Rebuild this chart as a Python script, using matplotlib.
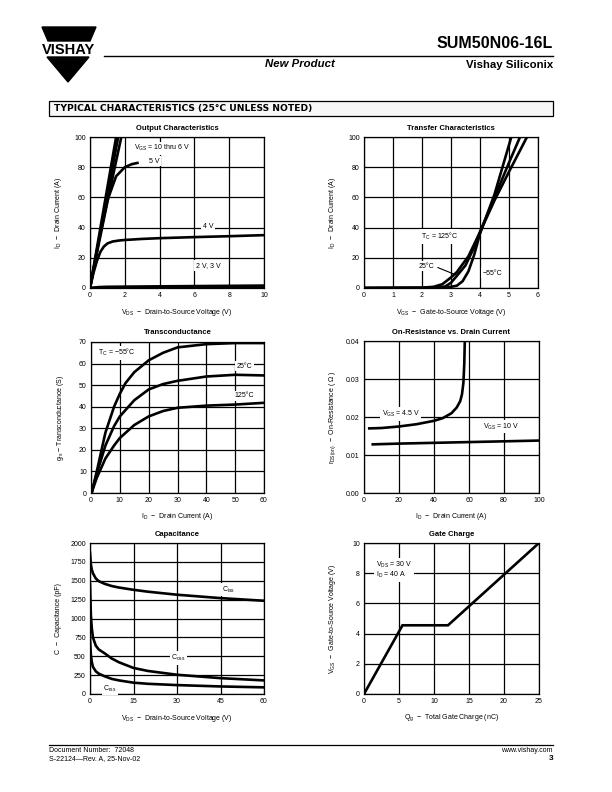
import matplotlib
matplotlib.use("Agg")
import matplotlib.pyplot as plt
from matplotlib.patches import Polygon, Rectangle

plt.rcParams['font.family'] = ['Liberation Sans', 'DejaVu Sans']
plt.rcParams['mathtext.fontset'] = 'custom'
plt.rcParams['mathtext.rm'] = 'Liberation Sans'
plt.rcParams['mathtext.it'] = 'Liberation Sans:italic'
plt.rcParams['mathtext.bf'] = 'Liberation Sans:bold'

# ---------------- data ----------------
# Output characteristics
out_vds_10 = [0, 1.5]
out_id_10 = [0, 100]
out_vds_8 = [0, 1.62]
out_id_8 = [0, 100]
out_vds_6 = [0, 0.5, 1.0, 1.5, 1.8]
out_id_6 = [0, 29, 57, 84, 100]
out_vds_5 = [0, 0.5, 1.0, 1.5, 2.0, 2.4, 2.8]
out_id_5 = [0, 31, 58, 74, 80, 82, 83]
out_vds_4 = [0, 0.2, 0.4, 0.6, 0.8, 1.0, 1.3, 1.7, 2.0, 3, 4, 6, 8, 10]
out_id_4 = [0, 10, 18, 24, 27.5, 29.5, 30.8, 31.5, 31.8, 32.5, 33, 33.7, 34.3, 35]
out_vds_3 = [0, 0.5, 1, 4, 10]
out_id_3 = [0, 0.6, 0.8, 1.1, 1.6]
out_vds_2 = [0, 10]
out_id_2 = [0, 0.2]

# Transfer characteristics
tr_vgs_125 = [0, 2.0, 2.4, 2.7, 3.0, 3.2, 3.6, 4.0, 4.5, 5.0, 5.62]
tr_id_125 = [0, 0.2, 0.8, 2.5, 7, 10.5, 21, 37, 58, 77, 100]
tr_vgs_25 = [0, 2.4, 2.8, 3.0, 3.2, 3.5, 3.8, 4.0, 4.5, 5.0, 5.38]
tr_id_25 = [0, 0.1, 1, 3.5, 8, 15, 27, 37, 60, 83, 100]
tr_vgs_m55 = [0, 2.8, 3.2, 3.4, 3.6, 3.8, 4.0, 4.5, 5.08]
tr_id_m55 = [0, 0.1, 1.5, 4.5, 11, 22, 36, 62, 100]

# Transconductance
gfs_id_m55 = [0.3, 2, 5, 8, 10, 12, 15, 20, 25, 30, 40, 50, 60]
gfs_m55 = [0.5, 10, 28, 40, 46, 51, 56, 61.5, 65, 67.5, 69, 69.5, 69.5]
gfs_id_25 = [0.3, 2, 5, 8, 10, 15, 20, 25, 30, 40, 50, 60]
gfs_25 = [0.5, 9, 22, 31, 35.5, 43, 48, 50.5, 52, 54, 54.8, 54.5]
gfs_id_125 = [0.3, 2, 5, 8, 10, 15, 20, 25, 30, 40, 50, 60]
gfs_125 = [0.5, 7, 16, 22, 25.5, 31.5, 35.5, 38, 39.5, 40.5, 41, 41.8]

# On-resistance vs drain current
ron_id_45 = [3, 10, 20, 30, 40, 45, 50, 53, 55, 56, 56.8, 57.3, 57.6]
ron_45 = [0.017, 0.0171, 0.0175, 0.0181, 0.019, 0.0197, 0.021, 0.0225, 0.0242, 0.026, 0.029, 0.034, 0.04]
ron_id_10 = [5, 20, 40, 60, 80, 100]
ron_10 = [0.0128, 0.0130, 0.0132, 0.0134, 0.0136, 0.0138]

# Capacitance
cap_vds = [0, 0.3, 0.6, 1, 2, 3, 5, 7.5, 10, 15, 20, 30, 45, 60]
ciss = [1870, 1720, 1650, 1600, 1530, 1495, 1460, 1430, 1410, 1380, 1355, 1315, 1270, 1235]
coss = [1450, 1050, 880, 750, 640, 590, 540, 470, 420, 345, 305, 255, 210, 180]
crss = [720, 520, 430, 360, 300, 270, 235, 200, 180, 150, 135, 118, 100, 88]

# Gate charge
qg = [0, 5.5, 12, 25]
vgs_qg = [0, 4.55, 4.55, 10]

# ---------------- figure ----------------
W, H = 612, 792
fig = plt.figure(figsize=(W / 100, H / 100), dpi=100)
bg = fig.add_axes([0, 0, 1, 1], zorder=0)
bg.set_xlim(0, W)
bg.set_ylim(H, 0)
bg.axis('off')

# logo
bg.add_patch(Polygon([(42, 27), (96, 27), (90, 41), (48, 41)], closed=True, color='black'))
bg.add_patch(Polygon([(47, 57), (89, 57), (68, 82)], closed=True, color='black'))
bg.text(69, 50, 'VISHAY', fontsize=10.5, fontweight='bold', ha='center', va='center')

bg.plot([104, 553], [56, 56], color='black', lw=1)
bg.text(553, 43, 'SUM50N06-16L', fontsize=11.5, fontweight='bold', ha='right', va='center')
bg.text(553, 65, 'Vishay Siliconix', fontsize=8.2, fontweight='bold', ha='right', va='center')
bg.text(300, 64, 'New Product', fontsize=8.2, fontweight='bold', style='italic', ha='center', va='center')

bg.add_patch(Rectangle((49, 101), 504, 15, facecolor='#f7f7f7', edgecolor='black', lw=0.9))
bg.text(54, 108.5, 'TYPICAL CHARACTERISTICS (25°C UNLESS NOTED)', fontsize=6.6,
        fontweight='bold', ha='left', va='center', family=['DejaVu Sans'])

bg.plot([49, 553], [745, 745], color='black', lw=0.9)
bg.text(49, 751, 'Document Number:  72048', fontsize=5, ha='left', va='center')
bg.text(49, 759, 'S-22124\u2014Rev. A, 25-Nov-02', fontsize=5, ha='left', va='center')
bg.text(553, 751, 'www.vishay.com', fontsize=5, ha='right', va='center')
bg.text(553, 759, '3', fontsize=6, fontweight='bold', ha='right', va='center')

CURVE_LW = 1.9
TFS = 5
BOX = dict(facecolor='white', edgecolor='none', pad=1.2)


def make_ax(l, r, t, b, title, xlabel, ylabel, xlim, ylim, xticks, yticks, yfmt=None):
    ax = fig.add_axes([l / W, (H - b) / H, (r - l) / W, (b - t) / H], zorder=2)
    ax.set_xlim(*xlim)
    ax.set_ylim(*ylim)
    ax.set_xticks(xticks)
    ax.set_yticks(yticks)
    if yfmt:
        ax.set_yticklabels([yfmt.format(v) for v in yticks])
    ax.tick_params(length=0, labelsize=TFS, pad=3)
    ax.grid(True, color='black', lw=0.9)
    ax.set_axisbelow(True)
    for s in ax.spines.values():
        s.set_linewidth(0.9)
    ax.text(0.5, 1 + 9 / (b - t), title, transform=ax.transAxes, ha='center', va='center',
            fontsize=5.5, fontweight='bold')
    ax.text(0.5, -24 / (b - t), xlabel, transform=ax.transAxes, ha='center', va='center',
            fontsize=5)
    ax.text(-31 / (r - l), 0.5, ylabel, transform=ax.transAxes, ha='center', va='center',
            fontsize=5, rotation=90)
    return ax


# Output characteristics
ax = make_ax(90, 264, 137, 288, 'Output Characteristics',
             'V$_{\\rm DS}$  \u2212  Drain-to-Source Voltage (V)',
             'I$_{\\rm D}$  \u2212  Drain Current (A)', (0, 10), (0, 100),
             [0, 2, 4, 6, 8, 10], [0, 20, 40, 60, 80, 100])
for xs, ys in [(out_vds_10, out_id_10), (out_vds_8, out_id_8), (out_vds_6, out_id_6),
               (out_vds_5, out_id_5), (out_vds_4, out_id_4), (out_vds_3, out_id_3),
               (out_vds_2, out_id_2)]:
    ax.plot(xs, ys, color='black', lw=CURVE_LW, solid_capstyle='butt', clip_on=True)
ax.text(2.55, 92.5, 'V$_{\\rm GS}$ = 10 thru 6 V', fontsize=TFS, va='center', bbox=BOX)
ax.text(3.4, 84, '5 V', fontsize=TFS, va='center', bbox=BOX)
ax.text(6.5, 41, '4 V', fontsize=TFS, va='center', bbox=BOX)
ax.text(6.1, 15, '2 V, 3 V', fontsize=TFS, va='center', bbox=BOX)

# Transfer characteristics
ax = make_ax(364, 538, 137, 288, 'Transfer Characteristics',
             'V$_{\\rm GS}$  \u2212  Gate-to-Source Voltage (V)',
             'I$_{\\rm D}$  \u2212  Drain Current (A)', (0, 6), (0, 100),
             [0, 1, 2, 3, 4, 5, 6], [0, 20, 40, 60, 80, 100])
for xs, ys in [(tr_vgs_125, tr_id_125), (tr_vgs_25, tr_id_25), (tr_vgs_m55, tr_id_m55)]:
    ax.plot(xs, ys, color='black', lw=CURVE_LW)
ax.text(1.95, 34, 'T$_{\\rm C}$ = 125\u00b0C', fontsize=TFS, va='center', bbox=BOX)
ax.text(1.9, 14.5, '25\u00b0C', fontsize=TFS, va='center', bbox=BOX)
ax.plot([2.55, 3.18], [13.5, 8.6], color='black', lw=0.8)
ax.text(4.08, 9.8, '\u221255\u00b0C', fontsize=TFS, va='center', bbox=BOX)

# Transconductance
ax = make_ax(91, 264, 342, 493, 'Transconductance',
             'I$_{\\rm D}$  \u2212  Drain Current (A)',
             'g$_{\\rm fs}$ \u2212 Transconductance (S)', (0, 60), (0, 70),
             [0, 10, 20, 30, 40, 50, 60], [0, 10, 20, 30, 40, 50, 60, 70])
for xs, ys in [(gfs_id_m55, gfs_m55), (gfs_id_25, gfs_25), (gfs_id_125, gfs_125)]:
    ax.plot(xs, ys, color='black', lw=CURVE_LW)
ax.text(2.3, 65, 'T$_{\\rm C}$ = \u221255\u00b0C', fontsize=TFS, va='center', bbox=BOX)
ax.text(50.5, 58.8, '25\u00b0C', fontsize=TFS, va='center', bbox=BOX)
ax.text(49.8, 45, '125\u00b0C', fontsize=TFS, va='center', bbox=BOX)

# On-resistance
ax = make_ax(364, 539, 341, 493, 'On-Resistance vs. Drain Current',
             'I$_{\\rm D}$  \u2212  Drain Current (A)',
             'r$_{\\rm DS(on)}$  \u2212  On-Resistance ( \u03a9 )', (0, 100), (0, 0.04),
             [0, 20, 40, 60, 80, 100], [0, 0.01, 0.02, 0.03, 0.04], yfmt='{:.2f}')
ax.plot(ron_id_45, ron_45, color='black', lw=CURVE_LW)
ax.plot(ron_id_10, ron_10, color='black', lw=CURVE_LW)
ax.text(10, 0.0208, 'V$_{\\rm GS}$ = 4.5 V', fontsize=TFS, va='center', bbox=BOX)
ax.text(68, 0.0175, 'V$_{\\rm GS}$ = 10 V', fontsize=TFS, va='center', bbox=BOX)

# Capacitance
ax = make_ax(90, 264, 543, 694, 'Capacitance',
             'V$_{\\rm DS}$  \u2212  Drain-to-Source Voltage (V)',
             'C  \u2212  Capacitance (pF)', (0, 60), (0, 2000),
             [0, 15, 30, 45, 60], [0, 250, 500, 750, 1000, 1250, 1500, 1750, 2000])
for ys in [ciss, coss, crss]:
    ax.plot(cap_vds, ys, color='black', lw=CURVE_LW)
ax.text(45.5, 1385, 'C$_{\\rm iss}$', fontsize=TFS, va='center', bbox=BOX)
ax.text(28, 475, 'C$_{\\rm oss}$', fontsize=TFS, va='center', bbox=BOX)
ax.text(4.6, 70, 'C$_{\\rm rss}$', fontsize=TFS, va='center', bbox=BOX)

# Gate charge
ax = make_ax(364, 539, 543, 694, 'Gate Charge',
             'Q$_{\\rm g}$  \u2212  Total Gate Charge (nC)',
             'V$_{\\rm GS}$  \u2212  Gate-to-Source Voltage (V)', (0, 25), (0, 10),
             [0, 5, 10, 15, 20, 25], [0, 2, 4, 6, 8, 10])
ax.plot(qg, vgs_qg, color='black', lw=CURVE_LW, solid_joinstyle='miter')
ax.text(1.7, 8.2, 'V$_{\\rm DS}$ = 30 V\nI$_{\\rm D}$ = 40 A', fontsize=TFS, va='center',
        linespacing=1.0, bbox=BOX)

fig.savefig('out.png', dpi=100)
